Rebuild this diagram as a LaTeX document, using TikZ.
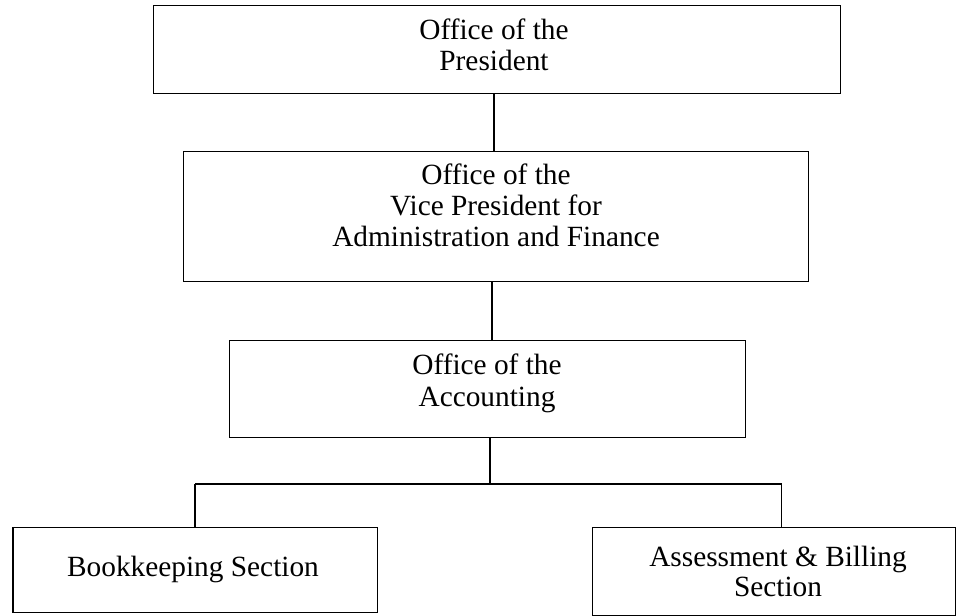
\documentclass[tikz,border=0pt]{standalone}
\usepackage{fontspec}
\setmainfont{Liberation Serif}
\begin{document}
\begin{tikzpicture}[x=0.75pt,y=-0.75pt,
  unitbox/.style={draw=black, line width=1.1pt, rectangle, inner sep=0pt, anchor=north west},
  caption/.style={anchor=base, inner sep=0pt, font=\fontsize{22}{26}\selectfont},
  link/.style={draw=black, line width=1.1pt}]
\useasboundingbox (0,0) rectangle (956,616);

% boxes of the chart
\node[unitbox, minimum width=515.25pt, minimum height=66pt]   (pres)   at (153,4.7) {};
\node[unitbox, minimum width=468.75pt, minimum height=97.5pt] (vp)     at (183,151) {};
\node[unitbox, minimum width=387pt,    minimum height=72.4pt] (acct)   at (229,340) {};
\node[unitbox, minimum width=273.3pt,  minimum height=63.75pt](book)   at (12.3,526.7) {};
\node[unitbox, minimum width=272.25pt, minimum height=66.2pt] (assess) at (592,526.7) {};

% box captions
\node[caption] (pres-a) at (494,40)   {Office of the};
\node[caption] (pres-b) at (494,70.7) {President};
\node[caption] (vp-a) at (496,185)   {Office of the};
\node[caption] (vp-b) at (496,216)   {Vice President for};
\node[caption] (vp-c) at (496,247)   {Administration and Finance};
\node[caption] (acct-a) at (487,374) {Office of the};
\node[caption] (acct-b) at (487,406) {Accounting};
\node[caption] (book-a) at (193,576.7) {Bookkeeping Section};
\node[caption] (assess-a) at (778,566.5) {Assessment \& Billing};
\node[caption] (assess-b) at (778,596)   {Section};

% connectors
\coordinate (x1) at (494,0);
\coordinate (x2) at (492,0);
\coordinate (x3) at (490,0);
\coordinate (bus-l) at (195,484);
\coordinate (bus-r) at (781.7,484);
\draw[link] (x1 |- pres.south) -- (x1 |- vp.north);
\draw[link] (x2 |- vp.south) -- (x2 |- acct.north);
\draw[link] (x3 |- acct.south) -- (x3 |- bus-l);
\draw[link] (bus-l) -- (bus-r);
\draw[link] (bus-l) -- (bus-l |- book.north);
\draw[link] (bus-r) -- (bus-r |- assess.north);
\end{tikzpicture}
\end{document}
